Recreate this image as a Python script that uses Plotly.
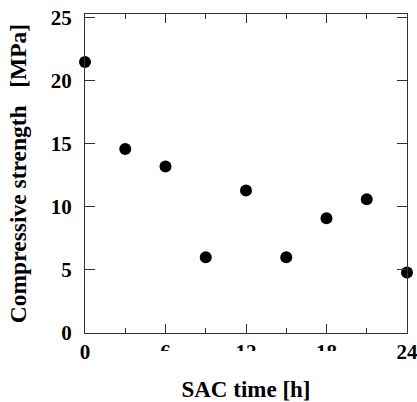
import plotly.graph_objects as go

sac_time_h = [0, 3, 6, 9, 12, 15, 18, 21, 24]
strength_mpa = [21.5, 14.6, 13.2, 6.0, 11.3, 6.0, 9.1, 10.6, 4.8]
x_ticks = [0, 6, 12, 18, 24]
y_ticks = [0, 5, 10, 15, 20, 25]

FONT = "Liberation Serif, Times New Roman, serif"
AX = "#333333"

fig = go.Figure()
fig.add_trace(go.Scatter(
    x=sac_time_h, y=strength_mpa, mode="markers",
    marker=dict(size=12, color="black"),
    cliponaxis=False, showlegend=False,
))

fig.update_xaxes(
    range=[0, 24], tickvals=x_ticks, ticktext=[f"<b>{v}</b>" for v in x_ticks],
    ticks="inside", ticklen=9, tickwidth=1.3, tickcolor=AX,
    minor=dict(dtick=3, tick0=0, ticks="inside", ticklen=5, tickwidth=1.3, tickcolor=AX),
    showline=True, linecolor=AX, linewidth=1.3, mirror="ticks",
    showgrid=False, zeroline=False, automargin=False,
    tickfont=dict(family=FONT, size=21, color="black"),
    ticklabelstandoff=0, ticklabeloverflow="allow",
    title=dict(text="<b>SAC time [h]</b>", font=dict(family=FONT, size=23, color="black"), standoff=17),
)
fig.update_yaxes(
    range=[0, 25.3], tickvals=y_ticks, ticktext=[f"<b>{v}</b>" for v in y_ticks],
    ticks="inside", ticklen=10, tickwidth=1.3, tickcolor=AX,
    showline=True, linecolor=AX, linewidth=1.3, mirror="ticks",
    showgrid=False, zeroline=False, automargin=False,
    tickfont=dict(family=FONT, size=21, color="black"),
    ticklabelstandoff=8, ticklabeloverflow="allow",
    title=dict(text="<b>Compressive strength   [MPa]</b>", font=dict(family=FONT, size=23.5, color="black"), standoff=17),
)
# the reference's middle x tick labels are cut across at the same height
fig.add_shape(type="rect", xref="x", yref="paper", x0=3, x1=21,
              y0=-0.0972, y1=-0.0564, fillcolor="white", line=dict(width=0),
              layer="above")
fig.update_layout(
    width=417, height=402,
    margin=dict(l=85, r=10, t=14, b=69),
    paper_bgcolor="white", plot_bgcolor="white",
    font=dict(family=FONT, color="black", size=21),
)
fig.write_html("out.html", config={"displayModeBar": False},
               post_script="document.body.style.margin='0';")
